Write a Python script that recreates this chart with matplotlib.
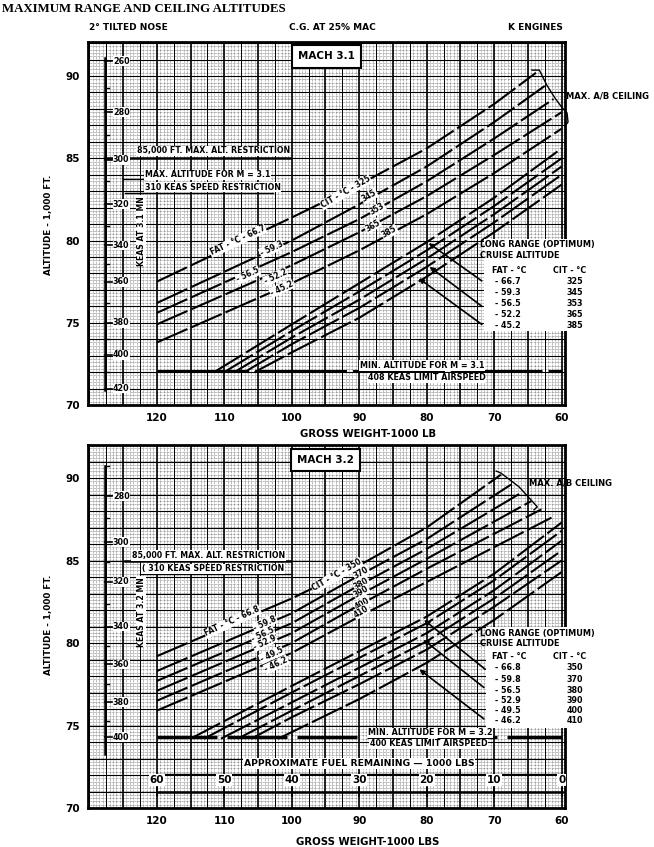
import numpy as np
import matplotlib
matplotlib.use("Agg")
import matplotlib.pyplot as plt
from matplotlib.patches import Rectangle

plt.rcParams['font.family'] = ['DejaVu Sans']
plt.rcParams['font.weight'] = 'bold'

# ---- values ----
weight_ticks = [120, 110, 100, 90, 80, 70, 60]
alt_ticks = [70, 75, 80, 85, 90]
fuel_labels = ['60', '50', '40', '30', '20', '10', '0']

# Mach 3.1
m31_fat = ['- 66.7', '- 59.3', '- 56.5', '- 52.2', '- 45.2']
m31_cit = ['325', '345', '353', '365', '385']
m31_max_x = [
    [120, 100, 90, 80, 70, 63.8],
    [120, 100, 90, 80, 70, 62.5],
    [120, 100, 90, 80, 70, 61.2],
    [120, 100, 90, 80, 70, 60],
    [120, 100, 90, 80, 70, 60],
]
m31_max_alt = [
    [77.5, 81.4, 83.4, 85.6, 88.3, 90.2],
    [76.2, 80.0, 82.2, 84.5, 87.2, 89.4],
    [75.6, 79.3, 81.3, 83.6, 86.2, 88.6],
    [74.9, 78.5, 80.5, 82.7, 85.2, 87.8],
    [73.8, 77.4, 79.4, 81.6, 84.1, 86.8],
]
m31_cruise_x = [
    [111.5, 100, 90, 80, 70, 60],
    [110, 100, 90, 80, 70, 60],
    [108.5, 100, 90, 80, 70, 60],
    [107, 100, 90, 80, 70, 60],
    [105.5, 100, 90, 80, 70, 60],
]
m31_cruise_alt = [
    [72.0, 74.9, 77.4, 79.9, 82.6, 85.6],
    [72.0, 74.5, 76.9, 79.4, 82.1, 85.0],
    [72.0, 74.1, 76.4, 78.9, 81.6, 84.5],
    [72.0, 73.7, 75.9, 78.4, 81.1, 84.0],
    [72.0, 73.2, 75.3, 77.8, 80.5, 83.4],
]
m31_fat_pos = [(108, 80.0), (103, 79.5), (106.5, 77.9), (102.4, 77.8), (101.5, 77.1)]
m31_cit_pos = [(92.0, 82.95), (88.5, 82.7), (87.3, 81.9), (88.0, 80.9), (85.5, 80.5)]
m31_keas = ['260', '280', '300', '320', '340', '360', '380', '400', '420']
m31_keas_alt = [90.9, 87.8, 84.9, 82.2, 79.7, 77.5, 75.0, 73.05, 71.0]
m31_keas_minor = [89.3, 86.4, 83.6, 80.9, 78.6, 76.2, 74.0, 72.0]
m31_min_alt = 72.05

# Mach 3.2
m32_fat = ['- 66.8', '- 59.8', '- 56.5', '- 52.9', '- 49.5', '- 46.2']
m32_cit = ['350', '370', '380', '390', '400', '410']
m32_max_x = [
    [120, 100, 90, 80, 69],
    [120, 100, 90, 80, 67.5],
    [120, 100, 90, 80, 66],
    [120, 100, 90, 80, 64.5],
    [120, 100, 90, 80, 63],
    [120, 100, 90, 80, 61.5],
]
m32_max_alt = [
    [79.2, 82.7, 84.7, 87.0, 90.2],
    [78.3, 81.8, 84.1, 86.3, 89.6],
    [77.7, 81.2, 83.5, 85.7, 89.1],
    [77.1, 80.6, 82.9, 85.1, 88.6],
    [76.5, 80.0, 82.3, 84.5, 88.1],
    [75.9, 79.4, 81.6, 83.7, 87.6],
]
m32_cruise_x = [
    [115, 100, 90, 80, 70, 60],
    [113, 100, 90, 80, 70, 60],
    [110.5, 100, 90, 80, 70, 60],
    [108, 100, 90, 80, 70, 60],
    [106, 100, 90, 80, 70, 60],
    [102, 100, 90, 80, 70, 60],
]
m32_cruise_alt = [
    [74.2, 77.4, 79.5, 81.6, 84.2, 87.3],
    [74.2, 77.0, 79.1, 81.2, 83.8, 86.8],
    [74.2, 76.4, 78.5, 80.6, 83.2, 86.2],
    [74.2, 75.9, 78.0, 80.1, 82.7, 85.6],
    [74.2, 75.5, 77.5, 79.6, 82.2, 85.0],
    [74.2, 74.6, 76.6, 78.8, 81.4, 84.3],
]
m32_fat_pos = [(108.8, 81.3), (104, 81.2), (104.3, 80.5), (104, 80.05), (103, 79.3), (102.3, 78.7)]
m32_cit_pos = [(93.3, 84.1), (89.7, 84.25), (89.7, 83.6), (89.7, 83.1), (89.6, 82.4), (89.7, 81.9)]
m32_keas = ['280', '300', '320', '340', '360', '380', '400']
m32_keas_alt = [88.9, 86.1, 83.7, 81.0, 78.7, 76.4, 74.3]
m32_keas_minor = [90.7, 87.6, 84.9, 82.35, 79.8, 77.5, 75.3]
m32_min_alt = 74.3

XLIM = (130.2, 59.5)
DASH = (0, (16, 2))


def graph_paper(ax):
    # dotted fine ruling + heavier lines, like the printed graph paper
    for x in np.arange(60, 130.1, 0.5):
        ax.axvline(x, color='0.35', lw=0.45, ls=(0, (1, 1.2)), zorder=0.3)
    for y in np.arange(70, 92.1, 0.2):
        ax.axhline(y, color='0.35', lw=0.45, ls=(0, (1, 1.2)), zorder=0.3)
    for x in np.arange(60, 130.1, 2.5):
        ax.axvline(x, color='black', lw=1.2 if x % 5 == 0 else 0.7, zorder=0.4)
    for y in np.arange(71, 92.1, 1):
        ax.axhline(y, color='black', lw=0.8, zorder=0.4)


def setup(ax, ytop):
    ax.set_xlim(*XLIM)
    ax.set_ylim(70, ytop)
    ax.set_xticks(weight_ticks)
    ax.set_xticklabels([str(w) for w in weight_ticks], fontsize=7.5, fontweight='bold')
    ax.set_yticks(alt_ticks)
    ax.set_yticklabels([str(a) for a in alt_ticks], fontsize=7.5, fontweight='bold')
    ax.tick_params(length=0, pad=6)
    for s in ax.spines.values():
        s.set_linewidth(2)
    graph_paper(ax)


def keas_scale(ax, labels, alts, minor, top, bottom, name, name_alt):
    ax.plot([127.7, 127.7], [bottom, top], color='black', lw=1.8, zorder=3)
    for lab, a in zip(labels, alts):
        ax.plot([127.7, 126.6], [a, a], color='black', lw=1.2, zorder=3)
        ax.text(126.5, a, lab, fontsize=5.8, ha='left', va='center', zorder=4,
                bbox=dict(fc='white', ec='none', pad=0.3))
    for a in minor:
        ax.plot([127.7, 127.1], [a, a], color='black', lw=1.0, zorder=3)
    ax.text(122.3, name_alt, name, fontsize=5.6, rotation=90, ha='center', va='center',
            zorder=4, bbox=dict(fc='white', ec='none', pad=0.5))


def curves(ax, xs, ys):
    for x, y in zip(xs, ys):
        ax.plot(x, y, color='black', lw=1.5, ls=DASH, zorder=2)


def line_labels(ax, texts, pos, rot):
    for t, (x, y) in zip(texts, pos):
        ax.text(x, y, t, fontsize=5.5, rotation=rot, ha='center', va='center', zorder=4,
                rotation_mode='anchor', bbox=dict(fc='white', ec='none', pad=0.4))


def legend_block(ax, x0, a0, fat, cit, hdr_alt, row_alts, box):
    # white patch sits over the curves and the right spine, as in the original
    ax.add_patch(Rectangle((box[0], box[2]), box[1] - box[0], box[3] - box[2],
                           fc='white', ec='none', zorder=2.7, clip_on=False))
    ax.text(x0, a0, 'LONG RANGE (OPTIMUM)', fontsize=5.9, ha='left', va='center', zorder=4)
    ax.text(x0, a0 - 0.65, 'CRUISE ALTITUDE', fontsize=5.9, ha='left', va='center', zorder=4)
    ax.text(67.8, hdr_alt, 'FAT - °C', fontsize=5.8, ha='center', va='center', zorder=4)
    ax.text(58.8, hdr_alt, 'CIT - °C', fontsize=5.8, ha='center', va='center', zorder=4)
    for f, c, a in zip(fat, cit, row_alts):
        ax.text(68.0, a, f, fontsize=5.8, ha='center', va='center', zorder=4)
        ax.text(58.1, a, c, fontsize=5.8, ha='center', va='center', zorder=4)


def arrows(ax, tails, tips):
    for t, p in zip(tails, tips):
        ax.annotate('', xy=p, xytext=t, annotation_clip=False, zorder=5,
                    arrowprops=dict(arrowstyle='-|>', lw=1.2, color='black', mutation_scale=7))


def boxed(ax, x, y, s, fs=5.5, ha='left'):
    ax.text(x, y, s, fontsize=fs, ha=ha, va='center', zorder=4,
            bbox=dict(fc='white', ec='none', pad=0.4))


fig = plt.figure(figsize=(6.54, 8.47), dpi=100)
ax1 = fig.add_axes([88 / 654, 1 - 405 / 847, 477 / 654, 363 / 847])
ax2 = fig.add_axes([88 / 654, 1 - 808 / 847, 477 / 654, 363 / 847])

fig.text(2 / 654, 1 - 9 / 847, 'MAXIMUM RANGE AND CEILING ALTITUDES', family='Liberation Serif',
         fontsize=9.3, fontweight='bold', ha='left', va='center')
fig.text(128 / 654, 1 - 27 / 847, '2° TILTED NOSE', fontsize=6.5, ha='center', va='center')
fig.text(332 / 654, 1 - 27 / 847, 'C.G. AT 25% MAC', fontsize=6.5, ha='center', va='center')
fig.text(535 / 654, 1 - 27 / 847, 'K ENGINES', fontsize=6.5, ha='center', va='center')
fig.text(48 / 654, 1 - 225 / 847, 'ALTITUDE - 1,000 FT.', fontsize=6.3, rotation=90, ha='center', va='center')
fig.text(48 / 654, 1 - 625 / 847, 'ALTITUDE - 1,000 FT.', fontsize=6.3, rotation=90, ha='center', va='center')
fig.text(368 / 654, 1 - 434 / 847, 'GROSS WEIGHT-1000 LB', fontsize=7.3, ha='center', va='center')
fig.text(368 / 654, 1 - 842 / 847, 'GROSS WEIGHT-1000 LBS', fontsize=7.3, ha='center', va='center')

# ---------- MACH 3.1 ----------
ax = ax1
setup(ax, 92.07)
curves(ax, m31_max_x, m31_max_alt)
curves(ax, m31_cruise_x, m31_cruise_alt)
ax.plot([120, 60], [m31_min_alt, m31_min_alt], color='black', lw=2.2, ls=(0, (30, 2)), zorder=2)
line_labels(ax, ['FAT - °C - 66.7'] + m31_fat[1:], m31_fat_pos, 25)
line_labels(ax, ['CIT - °C - 325'] + m31_cit[1:], m31_cit_pos, 30)
keas_scale(ax, m31_keas, m31_keas_alt, m31_keas_minor, 91.1, 70.9, 'KEAS AT 3.1 MN', 80.6)
ax.plot([127.7, 100.2], [85.0, 85.0], color='black', lw=1.8, zorder=3)
ax.plot([125.0, 121.8], [83.75, 83.75], color='black', lw=1.0, zorder=3)
ax.plot([124.7, 102.8], [82.9, 82.9], color='black', lw=1.0, zorder=3)
boxed(ax, 123.0, 85.45, '85,000 FT. MAX. ALT. RESTRICTION', 5.7)
boxed(ax, 121.8, 84.0, 'MAX. ALTITUDE FOR M = 3.1', 5.7)
boxed(ax, 121.8, 83.25, '310 KEAS SPEED RESTRICTION', 5.7)
boxed(ax, 89.9, 72.4, 'MIN. ALTITUDE FOR M = 3.1', 5.8)
boxed(ax, 88.7, 71.65, '408 KEAS LIMIT AIRSPEED', 5.8)
ax.text(94.85, 91.2, 'MACH 3.1', fontsize=7.5, ha='center', va='center', zorder=5,
        bbox=dict(boxstyle='square,pad=0.6', fc='white', ec='black', lw=1.5))
legend_block(ax, 72.1, 79.73, m31_fat, m31_cit, 78.15,
             [77.48, 76.87, 76.2, 75.53, 74.86], (71.5, 53.0, 74.5, 80.1))
arrows(ax, [(71.5, 77.45), (71.5, 75.9), (71.5, 74.8)],
       [(80.05, 79.94), (79.9, 78.5), (81.5, 77.8)])
ceil_x = [64.4, 63.3, 62.2, 61.0, 59.9, 59.2, 59.05, 59.5]
ceil_a = [90.36, 90.36, 89.45, 88.67, 88.06, 87.76, 87.2, 86.97]
ax.plot(ceil_x, ceil_a, color='black', lw=1.0, zorder=5, clip_on=False)
ax.text(59.35, 88.8, 'MAX. A/B CEILING', fontsize=6, ha='left', va='center')

# ---------- MACH 3.2 ----------
ax = ax2
setup(ax, 92.0)
curves(ax, m32_max_x, m32_max_alt)
curves(ax, m32_cruise_x, m32_cruise_alt)
ax.plot([120, 60], [m32_min_alt, m32_min_alt], color='black', lw=2.4, ls=(0, (18, 3)), zorder=2)
line_labels(ax, ['FAT - °C - 66.8'] + m32_fat[1:], m32_fat_pos, 25)
line_labels(ax, ['CIT - °C - 350'] + m32_cit[1:], m32_cit_pos, 30)
keas_scale(ax, m32_keas, m32_keas_alt, m32_keas_minor, 90.7, 73.3, 'KEAS AT 3.2 MN', 81.9)
ax.plot([124.7, 100.3], [84.95, 84.95], color='black', lw=1.8, zorder=3)
ax.plot([122.5, 100.3], [84.16, 84.16], color='black', lw=1.0, zorder=3)
boxed(ax, 123.7, 85.3, '85,000 FT. MAX. ALT. RESTRICTION', 5.7)
boxed(ax, 122.2, 84.5, '( 310 KEAS SPEED RESTRICTION', 5.7)
boxed(ax, 88.7, 74.55, 'MIN. ALTITUDE FOR M = 3.2', 5.8)
boxed(ax, 88.4, 73.88, '400 KEAS LIMIT AIRSPEED', 5.8)
ax.text(95.0, 91.1, 'MACH 3.2', fontsize=7.5, ha='center', va='center', zorder=5,
        bbox=dict(boxstyle='square,pad=0.6', fc='white', ec='black', lw=1.5))
legend_block(ax, 72.1, 80.6, m32_fat, m32_cit, 79.2,
             [78.5, 77.8, 77.15, 76.5, 75.9, 75.3], (71.2, 53.0, 74.85, 81.0))
arrows(ax, [(71.0, 78.3), (71.2, 77.2), (71.2, 75.3)],
       [(80.7, 81.5), (80.8, 80.3), (81.4, 78.5)])
ceil2_x = [69.7, 69.0, 66.3, 63.6, 64.1]
ceil2_a = [90.42, 90.3, 89.46, 88.25, 88.07]
ax.plot(ceil2_x, ceil2_a, color='black', lw=1.0, zorder=5)
ax.text(64.8, 89.7, 'MAX. A/B CEILING', fontsize=6, ha='left', va='center', zorder=5)

# fuel remaining scale
ax.plot([120, 60], [72.05, 72.05], color='black', lw=1.0, zorder=3)
ax.plot([120, 60], [70.95, 70.95], color='black', lw=1.8, zorder=3)
for w, f in zip(weight_ticks, fuel_labels):
    ax.plot([w, w], [70.75, 71.2], color='black', lw=1.2, zorder=3)
    ax.text(w, 71.7, f, fontsize=7.5, ha='center', va='center', zorder=4,
            bbox=dict(fc='white', ec='none', pad=0.5))
boxed(ax, 90.0, 72.7, 'APPROXIMATE FUEL REMAINING \u2014 1000 LBS', 6.7, ha='center')

fig.savefig('out.png', dpi=100)
